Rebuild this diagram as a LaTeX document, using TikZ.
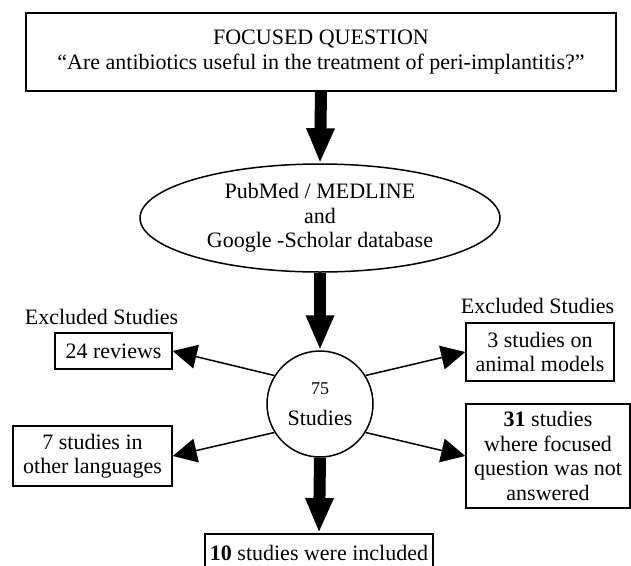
\documentclass[tikz,border=0pt]{standalone}
\usepackage{fontspec}
\setmainfont{Liberation Serif}
\usepackage{tikz}
\usetikzlibrary{shapes.geometric, arrows.meta, positioning}

\begin{document}
\begin{tikzpicture}[
  x=1pt, y=-1pt,
  every node/.style={font=\fontsize{22}{24.5}\selectfont},
  sbox/.style={rectangle, draw, line width=1.5pt, align=center, inner sep=0pt},
  lbl/.style={inner sep=0pt, anchor=base},
  fat/.style={-{Triangle[length=35pt, width=26pt]}, line width=12pt},
  arr/.style={-{Triangle[length=24pt, width=24pt]}, line width=1.5pt},
]
  \useasboundingbox (0,0) rectangle (631,565);

  \node[sbox, minimum width=590pt, minimum height=78pt, line width=2pt] (fq) at (321,52)
    {FOCUSED QUESTION\\``Are antibiotics useful in the treatment of peri-implantitis?''};
  \node[ellipse, draw, line width=1.5pt, inner sep=0pt, align=center,
        minimum width=360pt, minimum height=108pt] (db) at (320,218)
    {PubMed / MEDLINE\\and\\Google -Scholar database};
  \node[circle, draw, line width=1.5pt, inner sep=0pt, align=center,
        minimum size=106pt] (hub) at (320,404)
    {{\fontsize{18}{20}\selectfont 75}\\[7pt]Studies};

  \draw[fat] (fq.south) -- (db.north);
  \draw[fat] (db.south) -- (hub.north);

  % excluded on the left
  \node[lbl] (exl) at (101.5,324) {Excluded Studies};
  \node[sbox, minimum width=117pt, minimum height=36pt] (rev) at (113.5,351) {24 reviews};
  \node[sbox, minimum width=159pt, minimum height=60pt] (lang) at (92.5,456)
    {7 studies in\\other languages};

  % excluded on the right
  \node[lbl] (exr) at (537.5,313) {Excluded Studies};
  \node[sbox, minimum width=148pt, minimum height=58pt] (anim) at (540,352)
    {3 studies on\\animal models};
  \node[sbox, minimum width=164pt, minimum height=104pt] (nq) at (548,456)
    {\textbf{31} studies\\where focused\\question was not\\answered};

  \draw[arr] (hub.148) -- (rev.east);
  \draw[arr] (hub.212) -- (lang.east);
  \draw[arr] (hub.32) -- (anim.west);
  \draw[arr] (hub.-32) -- (nq.west);

  \node[sbox, anchor=north, minimum width=228pt, minimum height=44pt,
        text height=15pt, text depth=5pt] (inc) at (319,533)
    {\textbf{10} studies were included};
  \draw[fat] (hub.south) -- (inc.north);
\end{tikzpicture}
\end{document}
